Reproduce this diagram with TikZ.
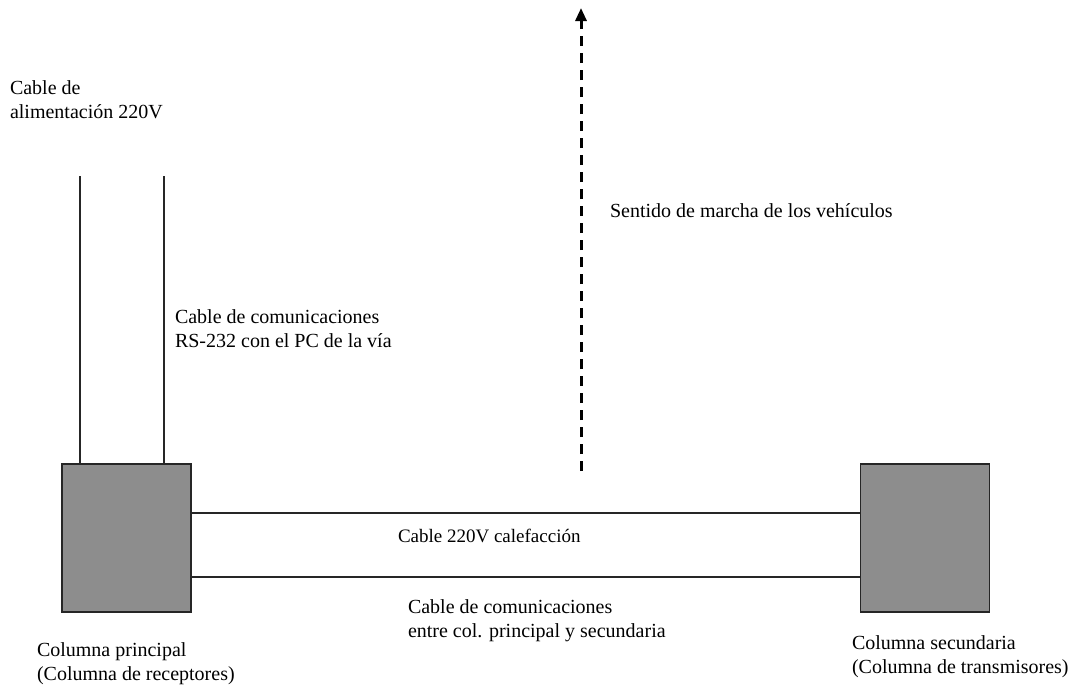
\documentclass[tikz,border=0pt]{standalone}
\usepackage{fontspec}
\setmainfont{Liberation Serif}
\usetikzlibrary{arrows.meta}
\definecolor{boxgray}{RGB}{141,141,141}
\begin{document}
\begin{tikzpicture}[x=1pt,y=-1pt,
  lbl/.style={inner sep=0pt, outer sep=0pt, align=left, font=\fontsize{20}{23.5}\selectfont, anchor=north west},
  smalllbl/.style={inner sep=0pt, outer sep=0pt, font=\fontsize{19}{21}\selectfont, anchor=west},
  colbox/.style={draw=black!85, line width=1.2pt, fill=boxgray, minimum width=129pt, minimum height=148pt, inner sep=0pt},
  cable/.style={line width=1.1pt, draw=black!85},
  dirarrow/.style={line width=3pt, dash pattern=on 10pt off 7pt, -{Triangle[length=13pt,width=11pt]}}]
\fill[white] (0,0) rectangle (1075,688);
\useasboundingbox (0,0) rectangle (1075,688);

% columns
\node[colbox] (L) at (126.5,538) {};
\node[colbox] (R) at (925,538) {};

% power and comms cables on the left column
\coordinate (pw) at (80,176);
\coordinate (rs) at (164,176);
\draw[cable] (pw) -- (pw |- L.north);
\draw[cable] (rs) -- (rs |- L.north);

% cables between columns
\coordinate (h1) at (0,513);
\coordinate (h2) at (0,577);
\draw[cable] (L.east |- h1) -- (R.west |- h1);
\draw[cable] (L.east |- h2) -- (R.west |- h2);

% direction arrow
\coordinate (abot) at (581,471);
\coordinate (atop) at (581,8);
\draw[dirarrow] (abot) -- (atop);

% labels
\node[lbl] (t1) at (10,81) {Cable de\\alimentación 220V};
\node[lbl] (t2) at (175,310) {Cable de comunicaciones\\RS-232 con el PC de la vía};
\node[lbl] (t3) at (610,204) {Sentido de marcha de los vehículos};
\node[smalllbl] (t4) at (398,536) {Cable 220V calefacción};
\node[lbl] (t5) at (408,600) {Cable de comunicaciones\\entre col. principal y secundaria};
\node[lbl] (t6) at (37,643) {Columna principal\\(Columna de receptores)};
\node[lbl] (t7) at (852,636) {Columna secundaria\\(Columna de transmisores)};
\end{tikzpicture}
\end{document}
